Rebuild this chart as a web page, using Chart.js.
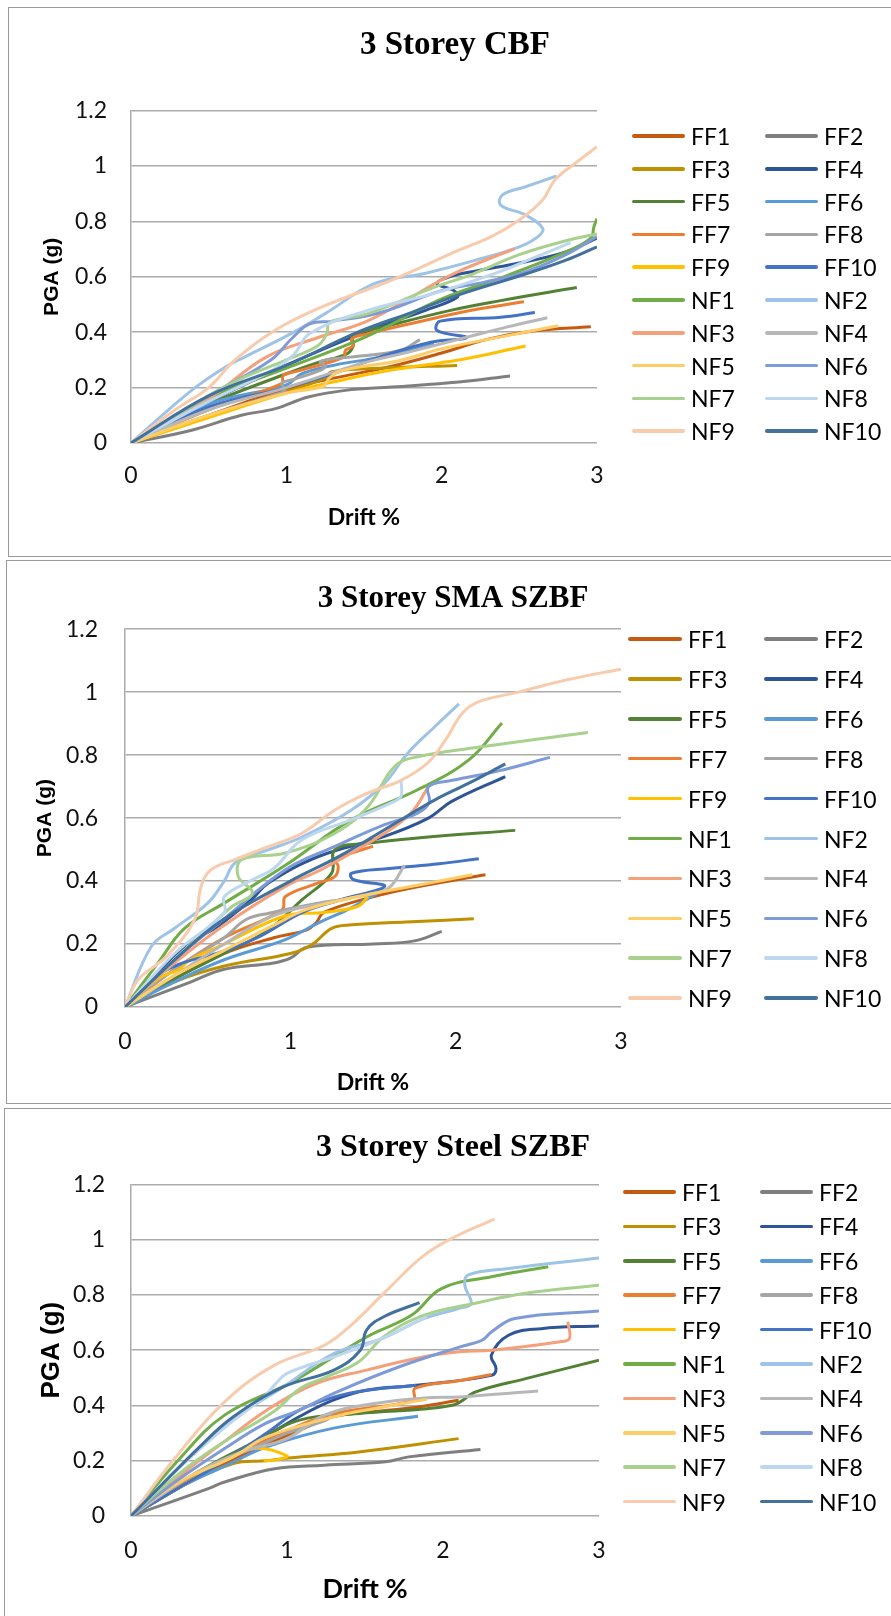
<!DOCTYPE html>
<html>
<head>
<meta charset="utf-8">
<script src="https://cdn.jsdelivr.net/npm/chart.js@4.4.1/dist/chart.umd.min.js"></script>
<style>
  body { margin:0; width:891px; height:1616px; overflow:hidden; background:#fff; position:relative; }
  .box { position:absolute; border:1.5px solid #9a9a9a; box-sizing:border-box; }
  canvas { position:absolute; }
  .leg { position:absolute; height:30px; margin-top:-15px; display:flex; align-items:center;
         font-family:Lato, "Open Sans", sans-serif; font-size:23px; color:#000; white-space:nowrap; }
  .sw { display:inline-block; height:3.5px; border-radius:2px; }
</style>
</head>
<body>
<div class="box" style="left:8px;top:7px;width:900px;height:550px"></div>
<div class="box" style="left:6px;top:560px;width:900px;height:544px"></div>
<div class="box" style="left:4px;top:1108px;width:900px;height:540px"></div>
<canvas id="c1" width="894" height="549" style="left:8px;top:7px"></canvas>
<canvas id="c2" width="894" height="543" style="left:6px;top:560px"></canvas>
<canvas id="c3" width="898" height="508" style="left:4px;top:1108px"></canvas>
<script>
// series names + colours (Excel palette)
const seriesNames = ['FF1','FF2','FF3','FF4','FF5','FF6','FF7','FF8','FF9','FF10',
                     'NF1','NF2','NF3','NF4','NF5','NF6','NF7','NF8','NF9','NF10'];
const seriesColors = ['#C55A11','#7F7F7F','#BF9000','#2F5597','#548235','#5B9BD5','#ED7D31','#A5A5A5','#FFC000','#4472C4',
                      '#70AD47','#9DC3E6','#F4A07A','#B7B7B7','#FFCD66','#7E9BD8','#A9D18E','#BDD7EE','#F8CBAD','#41719C'];
const xTicks = [0, 1, 2, 3];
const yTicks = [0, 0.2, 0.4, 0.6, 0.8, 1, 1.2];

// [drift %, PGA g] per series
const cbfCurves = [
  [[0,0],[0.5,0.1],[1.0,0.195],[1.4,0.245],[1.7,0.28],[2.0,0.325],[2.3,0.375],[2.6,0.405],[2.96,0.42]],
  [[0,0],[0.39,0.046],[0.71,0.1],[0.93,0.124],[1.14,0.166],[1.38,0.19],[1.68,0.202],[2.11,0.22],[2.44,0.242]],
  [[0,0],[0.5,0.1],[1.0,0.185],[1.25,0.235],[1.29,0.257],[1.6,0.27],[2.1,0.28]],
  [[0,0],[0.4,0.12],[0.8,0.23],[1.2,0.33],[1.6,0.42],[1.9,0.48],[2.1,0.526],[2.08,0.55],[1.97,0.575],[2.05,0.6],[2.23,0.622],[2.5,0.65],[2.8,0.69],[3.0,0.74]],
  [[0,0],[0.5,0.14],[1.0,0.25],[1.2,0.29],[1.39,0.322],[1.43,0.35],[1.43,0.388],[1.62,0.418],[2.05,0.478],[2.38,0.514],[2.87,0.561]],
  [[0,0],[0.5,0.14],[1.0,0.21],[1.1,0.25],[1.3,0.28],[1.6,0.31],[1.95,0.36]],
  [[0,0],[0.5,0.12],[0.97,0.214],[0.98,0.244],[1.09,0.262],[1.37,0.31],[1.38,0.334],[1.43,0.352],[1.42,0.376],[1.52,0.394],[1.84,0.436],[2.2,0.48],[2.53,0.51]],
  [[0,0],[0.5,0.1],[0.9,0.17],[0.99,0.19],[0.97,0.215],[1.05,0.23],[1.21,0.26],[1.25,0.275],[1.22,0.295],[1.41,0.31],[1.73,0.334],[1.86,0.373]],
  [[0,0],[0.3,0.055],[0.6,0.11],[1.0,0.18],[1.3,0.22],[1.64,0.26],[2.11,0.3],[2.32,0.323],[2.54,0.35]],
  [[0,0],[0.5,0.13],[1.0,0.2],[1.3,0.25],[1.6,0.31],[1.93,0.364],[2.16,0.38],[1.97,0.406],[1.99,0.44],[2.38,0.454],[2.6,0.471]],
  [[0,0],[0.5,0.16],[1.0,0.27],[1.5,0.38],[2.0,0.52],[2.4,0.6],[2.8,0.69],[2.96,0.74],[2.98,0.78],[3.0,0.81]],
  [[0,0],[0.39,0.19],[0.61,0.275],[0.73,0.31],[1.03,0.395],[1.25,0.467],[1.57,0.576],[1.89,0.612],[2.22,0.66],[2.5,0.708],[2.62,0.745],[2.65,0.775],[2.54,0.823],[2.38,0.859],[2.39,0.895],[2.54,0.925],[2.74,0.964]],
  [[0,0],[0.5,0.16],[0.87,0.31],[1.2,0.38],[1.52,0.44],[1.84,0.538],[1.95,0.574],[2.11,0.62],[2.47,0.702]],
  [[0,0],[0.5,0.12],[1.0,0.2],[1.5,0.29],[1.8,0.33],[2.17,0.383],[2.43,0.42],[2.68,0.452]],
  [[0,0],[0.5,0.1],[1.0,0.18],[1.24,0.205],[1.27,0.23],[1.35,0.26],[1.73,0.298],[2.0,0.34],[2.4,0.385],[2.75,0.423]],
  [[0,0],[0.5,0.17],[0.9,0.3],[1.04,0.38],[1.15,0.43],[1.3,0.44],[1.6,0.47],[2.0,0.55],[2.27,0.58],[2.54,0.618],[2.8,0.68],[3.0,0.745]],
  [[0,0],[0.5,0.17],[0.7,0.23],[1.0,0.3],[1.2,0.35],[1.26,0.394],[1.28,0.436],[1.52,0.466],[1.95,0.562],[2.2,0.61],[2.5,0.68],[2.8,0.73],[3.0,0.755]],
  [[0,0],[0.5,0.15],[0.9,0.26],[1.05,0.32],[1.15,0.395],[1.52,0.478],[1.95,0.54],[2.38,0.62],[2.6,0.67],[2.83,0.723]],
  [[0,0],[0.28,0.118],[0.5,0.2],[0.67,0.3],[0.93,0.408],[1.25,0.496],[1.68,0.588],[2.11,0.696],[2.32,0.745],[2.5,0.805],[2.65,0.877],[2.73,0.95],[2.86,1.01],[3.0,1.07]],
  [[0,0],[0.5,0.17],[1.0,0.28],[1.46,0.4],[1.8,0.47],[2.11,0.535],[2.54,0.61],[2.8,0.66],[3.0,0.708]]
];

const smaCurves = [
  [[0,0],[0.3,0.09],[0.6,0.17],[0.9,0.22],[1.1,0.245],[1.16,0.27],[1.2,0.3],[1.5,0.35],[1.8,0.385],[2.18,0.42]],
  [[0,0],[0.2,0.04],[0.4,0.08],[0.6,0.12],[0.9,0.14],[1.0,0.155],[1.1,0.19],[1.5,0.2],[1.75,0.21],[1.915,0.24]],
  [[0,0],[0.3,0.08],[0.6,0.13],[1.0,0.17],[1.13,0.198],[1.25,0.25],[1.37,0.261],[1.7,0.27],[2.11,0.28]],
  [[0,0],[0.36,0.193],[0.56,0.256],[0.766,0.342],[0.867,0.394],[1.17,0.478],[1.57,0.542],[1.835,0.6],[1.976,0.653],[2.3,0.732]],
  [[0,0],[0.3,0.09],[0.6,0.17],[0.867,0.245],[1.07,0.34],[1.25,0.425],[1.27,0.5],[1.47,0.52],[1.77,0.537],[2.36,0.561]],
  [[0,0],[0.3,0.08],[0.6,0.15],[0.97,0.214],[1.17,0.267],[1.35,0.31],[1.53,0.362]],
  [[0,0],[0.3,0.12],[0.6,0.22],[0.95,0.309],[0.97,0.351],[1.17,0.394],[1.27,0.415],[1.29,0.447],[1.27,0.468],[1.37,0.489],[1.5,0.51]],
  [[0,0],[0.3,0.12],[0.6,0.22],[0.73,0.277],[0.87,0.298],[1.17,0.33],[1.3,0.34]],
  [[0,0],[0.2,0.09],[0.33,0.12],[0.38,0.145],[0.6,0.2],[0.97,0.29],[1.2,0.3],[1.41,0.32],[1.47,0.351]],
  [[0,0],[0.2,0.1],[0.35,0.14],[0.56,0.171],[0.8,0.22],[1.07,0.3],[1.3,0.34],[1.57,0.383],[1.38,0.405],[1.37,0.425],[1.6,0.44],[1.9,0.455],[2.14,0.471]],
  [[0,0],[0.2,0.14],[0.36,0.25],[0.6,0.33],[0.97,0.45],[1.37,0.595],[1.77,0.69],[2.08,0.785],[2.28,0.902]],
  [[0,0],[0.16,0.193],[0.3,0.25],[0.5,0.33],[0.6,0.4],[0.67,0.46],[0.87,0.5],[1.07,0.54],[1.37,0.626],[1.57,0.711],[1.71,0.806],[1.875,0.891],[2.02,0.963]],
  [[0,0],[0.3,0.14],[0.6,0.26],[0.97,0.383],[1.2,0.44],[1.57,0.552],[1.73,0.616],[1.835,0.7]],
  [[0,0],[0.3,0.1],[0.6,0.2],[0.9,0.29],[1.2,0.33],[1.5,0.36],[1.6,0.38],[1.69,0.45]],
  [[0,0],[0.3,0.1],[0.6,0.18],[0.9,0.26],[1.1,0.31],[1.4,0.35],[1.8,0.39],[2.1,0.42]],
  [[0,0],[0.3,0.15],[0.6,0.28],[0.97,0.436],[1.27,0.51],[1.57,0.579],[1.77,0.616],[1.84,0.65],[1.835,0.7],[1.98,0.72],[2.26,0.75],[2.57,0.793]],
  [[0,0],[0.3,0.15],[0.5,0.25],[0.65,0.32],[0.77,0.362],[0.685,0.414],[0.706,0.468],[0.97,0.489],[1.27,0.552],[1.47,0.637],[1.63,0.764],[1.77,0.795],[2.18,0.828],[2.8,0.872]],
  [[0,0],[0.3,0.17],[0.6,0.3],[0.6,0.35],[0.77,0.404],[0.9,0.44],[1.07,0.531],[1.37,0.595],[1.63,0.653],[1.67,0.67],[1.67,0.72]],
  [[0,0],[0.08,0.087],[0.25,0.16],[0.42,0.277],[0.46,0.383],[0.52,0.436],[0.665,0.468],[0.87,0.51],[1.07,0.552],[1.27,0.626],[1.47,0.68],[1.67,0.72],[1.83,0.775],[1.94,0.849],[2.04,0.933],[2.14,0.97],[2.38,1.0],[2.68,1.04],[3.0,1.073]],
  [[0,0],[0.3,0.15],[0.6,0.28],[1.0,0.4],[1.3,0.48],[1.67,0.595],[1.875,0.658],[2.08,0.711],[2.3,0.772]]
];

const steelCurves = [
  [[0,0],[0.3,0.1],[0.6,0.19],[0.87,0.26],[1.08,0.31],[1.3,0.36],[1.6,0.38],[1.85,0.395],[2.1,0.419]],
  [[0,0],[0.5,0.1],[0.6,0.123],[0.92,0.171],[1.24,0.184],[1.63,0.196],[1.78,0.214],[2.24,0.241]],
  [[0,0],[0.3,0.1],[0.655,0.19],[0.87,0.2],[1.01,0.21],[1.46,0.232],[2.10,0.28]],
  [[0,0],[0.3,0.1],[0.6,0.2],[0.87,0.29],[1.08,0.36],[1.3,0.42],[1.51,0.455],[1.83,0.473],[2.31,0.509],[2.34,0.534],[2.31,0.582],[2.42,0.654],[2.63,0.678],[3.0,0.688]],
  [[0,0],[0.4,0.15],[0.8,0.27],[1.08,0.347],[1.46,0.371],[2.06,0.401],[2.21,0.449],[2.53,0.497],[3.0,0.564]],
  [[0,0],[0.3,0.1],[0.6,0.18],[0.87,0.25],[1.30,0.318],[1.84,0.361]],
  [[0,0],[0.3,0.11],[0.6,0.2],[1.03,0.316],[1.3,0.371],[1.81,0.419],[1.82,0.462],[2.11,0.49],[2.31,0.512]],
  [[0,0],[0.4,0.15],[0.8,0.25],[1.0,0.3],[1.26,0.35],[1.28,0.37]],
  [[0,0],[0.3,0.1],[0.6,0.2],[0.8,0.245],[1.0,0.218],[0.95,0.205],[0.85,0.2]],
  [[0,0],[0.3,0.1],[0.6,0.2],[0.87,0.3],[1.08,0.383],[1.3,0.43],[1.51,0.455],[1.83,0.473]],
  [[0,0],[0.3,0.2],[0.6,0.365],[1.03,0.485],[1.51,0.648],[1.8,0.727],[1.99,0.823],[2.31,0.866],[2.675,0.902]],
  [[0,0],[0.3,0.17],[0.6,0.33],[0.976,0.467],[1.3,0.588],[1.6,0.64],[1.88,0.715],[2.1,0.751],[2.18,0.769],[2.14,0.835],[2.16,0.872],[2.42,0.896],[3.0,0.934]],
  [[0,0],[0.3,0.14],[0.6,0.27],[0.87,0.383],[1.19,0.48],[1.51,0.528],[1.88,0.576],[2.11,0.594],[2.31,0.6],[2.74,0.63],[2.81,0.642],[2.80,0.703]],
  [[0,0],[0.4,0.15],[0.7,0.23],[1.0,0.28],[1.24,0.365],[1.56,0.407],[1.88,0.427],[2.11,0.431],[2.61,0.452]],
  [[0,0],[0.3,0.12],[0.655,0.214],[0.87,0.286],[1.3,0.359],[1.56,0.389],[1.895,0.422]],
  [[0,0],[0.3,0.13],[0.6,0.244],[0.86,0.334],[1.08,0.383],[1.30,0.444],[1.72,0.54],[2.11,0.612],[2.25,0.636],[2.31,0.666],[2.46,0.715],[3.0,0.742]],
  [[0,0],[0.3,0.15],[0.6,0.27],[0.92,0.38],[1.08,0.46],[1.24,0.5],[1.46,0.558],[1.62,0.649],[1.88,0.727],[2.2,0.769],[2.52,0.805],[3.0,0.835]],
  [[0,0],[0.3,0.17],[0.6,0.32],[0.85,0.43],[0.93,0.48],[1.0,0.516],[1.30,0.576],[1.6,0.64],[1.895,0.721]],
  [[0,0],[0.28,0.208],[0.6,0.413],[0.92,0.546],[1.24,0.618],[1.41,0.69],[1.63,0.811],[1.88,0.944],[2.10,1.017],[2.33,1.074]],
  [[0,0],[0.44,0.25],[0.656,0.359],[0.976,0.467],[1.30,0.528],[1.47,0.6],[1.51,0.673],[1.62,0.721],[1.85,0.772]]
];

const tickFont = { family: 'Lato', size: 23 };

function makeChart(id, title, curves, g) {
  const datasets = curves.map((pts, i) => ({
    label: seriesNames[i],
    data: pts.map(p => ({ x: p[0], y: p[1] })),
    borderColor: seriesColors[i],
    borderWidth: 3,
    pointRadius: 0,
    showLine: true,
    fill: false,
    tension: 0.4,
    order: curves.length - i   // later series on top, like excel
  }));

  return new Chart(document.getElementById(id), {
    type: 'scatter',
    data: { datasets },
    options: {
      responsive: false,
      animation: false,
      events: [],
      plugins: {
        legend: { display: false },
        tooltip: { enabled: false },
        title: {
          display: true, text: title, color: '#000',
          font: { family: '"Liberation Serif", "Times New Roman", serif', size: g.titleSize, weight: 'bold', lineHeight: 1.2 },
          padding: { top: g.titleTop, bottom: g.titleBottom }
        }
      },
      scales: {
        x: {
          type: 'linear', min: xTicks[0], max: xTicks[xTicks.length - 1],
          afterBuildTicks: s => { s.ticks = xTicks.map(v => ({ value: v })); },
          afterFit: s => { s.height = g.xHeight; },
          grid: { display: false, drawTicks: false },
          border: { display: false },
          ticks: { color: '#111', font: tickFont, padding: g.xTickPad, maxRotation: 0 },
          title: { display: true, text: 'Drift %', color: '#000',
                   font: { family: 'Lato', size: g.xTitleSize, weight: 'bold', lineHeight: 1.2 },
                   padding: { top: 0, bottom: g.xTitlePad } }
        },
        y: {
          type: 'linear', min: yTicks[0], max: yTicks[yTicks.length - 1],
          afterBuildTicks: s => { s.ticks = yTicks.map(v => ({ value: v })); },
          afterFit: s => { s.width = g.yWidth; },
          grid: { color: '#ababab', lineWidth: 1.5, drawTicks: false },
          border: { display: true, color: '#ababab', width: 1.5 },
          ticks: { color: '#111', font: tickFont, padding: g.yTickPad,
                   callback: v => String(Math.round(v * 10) / 10) },
          title: { display: true, text: 'PGA (g)', color: '#000',
                   font: { family: '"Liberation Sans", Arial, sans-serif', size: g.yTitleSize, weight: 'bold', lineHeight: 1.2 },
                   padding: { top: g.yTitlePad, bottom: 0 } }
        },
        // empty right axis: keeps room for the html legend, title stays centred on the whole box
        side: {
          type: 'linear', position: 'right', axis: 'y', min: 0, max: 1,
          afterFit: s => { s.width = g.padRight; },
          grid: { display: false, drawTicks: false },
          border: { display: false },
          ticks: { display: false }
        }
      }
    }
  });
}

function addLegend(col1, col2, top, gap, lineW) {
  seriesNames.forEach((name, i) => {
    const item = document.createElement('div');
    item.className = 'leg';
    item.style.left = (i % 2 ? col2 : col1) + 'px';
    item.style.top = (top + Math.floor(i / 2) * gap) + 'px';
    const sw = document.createElement('span');
    sw.className = 'sw';
    sw.style.width = lineW + 'px';
    sw.style.marginRight = '6px';
    sw.style.background = seriesColors[i];
    const lb = document.createElement('span');
    lb.textContent = name;
    item.appendChild(sw);
    item.appendChild(lb);
    document.body.appendChild(item);
  });
}

makeChart('c1', '3 Storey CBF', cbfCurves, {
  padRight: 305, titleSize: 33, titleTop: 19, titleBottom: 45, xHeight: 113, xTickPad: 19, xTitleSize: 23, xTitlePad: 25,
  yWidth: 123, yTickPad: 24, yTitleSize: 21, yTitlePad: 32
});
makeChart('c2', '3 Storey SMA SZBF', smaCurves, {
  padRight: 279, titleSize: 31, titleTop: 20, titleBottom: 12, xHeight: 96, xTickPad: 21, xTitleSize: 23, xTitlePad: 7,
  yWidth: 119, yTickPad: 27, yTitleSize: 21, yTitlePad: 27
});
makeChart('c3', '3 Storey Steel SZBF', steelCurves, {
  padRight: 303, titleSize: 32, titleTop: 21, titleBottom: 17, xHeight: 100, xTickPad: 21, xTitleSize: 27, xTitlePad: 11,
  yWidth: 127, yTickPad: 26, yTitleSize: 26, yTitlePad: 32
});

addLegend(632, 765, 136, 32.8, 53);
addLegend(628, 764, 639, 39.9, 54);
addLegend(623, 760, 1192, 34.4, 53);
</script>
</body>
</html>
